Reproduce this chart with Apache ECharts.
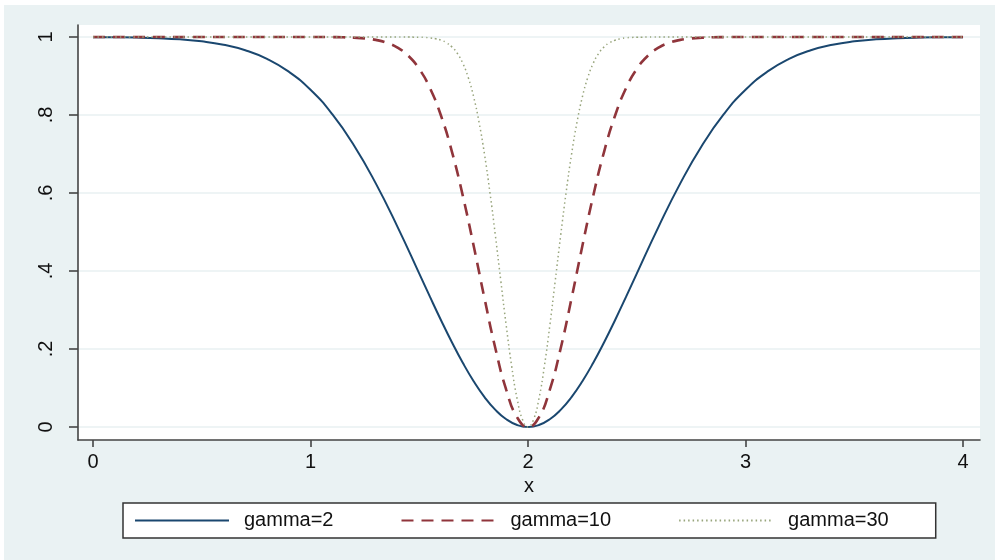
<!DOCTYPE html>
<html>
<head>
<meta charset="utf-8">
<script src="https://cdn.jsdelivr.net/npm/echarts@6/dist/echarts.min.js"></script>
<style>
  html, body { margin: 0; padding: 0; background: #ffffff; }
  #wrap { position: relative; width: 995px; height: 560px; overflow: hidden; }
  #bg { position: absolute; left: 4px; top: 5px; right: 0; bottom: 0; background: #eaf2f3; }
  #chart { position: absolute; left: 0; top: 0; width: 995px; height: 560px; }
</style>
</head>
<body>
<div id="wrap"><div id="bg"></div><div id="chart"></div></div>
<script>
// Tick positions shown on each axis
const xTicks = [0, 1, 2, 3, 4];
const yTicks = [0, 0.2, 0.4, 0.6, 0.8, 1];

const seriesNames = ['gamma=2', 'gamma=10', 'gamma=30'];

// gamma=2 : sampled every 0.1, every 0.05 near the minimum
const xG2 = [0, 0.1, 0.2, 0.3, 0.4, 0.5, 0.6, 0.7, 0.8, 0.9, 1.0,
  1.1, 1.2, 1.3, 1.4, 1.5, 1.55, 1.6, 1.65, 1.7, 1.75, 1.8, 1.85, 1.9, 1.95, 2.0,
  2.05, 2.1, 2.15, 2.2, 2.25, 2.3, 2.35, 2.4, 2.45, 2.5, 2.6, 2.7, 2.8, 2.9, 3.0,
  3.1, 3.2, 3.3, 3.4, 3.5, 3.6, 3.7, 3.8, 3.9, 4.0];
const yG2 = [0.9997, 0.9993, 0.9985, 0.9969, 0.9940, 0.9889, 0.9802, 0.9660, 0.9439, 0.9111, 0.8647,
  0.8021, 0.7220, 0.6247, 0.5133, 0.3935, 0.3330, 0.2739, 0.2173, 0.1647, 0.1175, 0.0769, 0.0440, 0.0198, 0.0050, 0,
  0.0050, 0.0198, 0.0440, 0.0769, 0.1175, 0.1647, 0.2173, 0.2739, 0.3330, 0.3935, 0.5133, 0.6247, 0.7220, 0.8021, 0.8647,
  0.9111, 0.9439, 0.9660, 0.9802, 0.9889, 0.9940, 0.9969, 0.9985, 0.9993, 0.9997];

// gamma=10 : flat ends, sampled every 0.05 between 1 and 3
const xG10 = [0, 1.0, 1.05, 1.1, 1.15, 1.2, 1.25, 1.3, 1.35, 1.4, 1.45, 1.5,
  1.55, 1.6, 1.65, 1.7, 1.75, 1.8, 1.85, 1.9, 1.95, 2.0,
  2.05, 2.1, 2.15, 2.2, 2.25, 2.3, 2.35, 2.4, 2.45, 2.5,
  2.55, 2.6, 2.65, 2.7, 2.75, 2.8, 2.85, 2.9, 2.95, 3.0, 4];
const yG10 = [1, 1.0000, 0.9999, 0.9997, 0.9993, 0.9983, 0.9964, 0.9926, 0.9854, 0.9727, 0.9515, 0.9179,
  0.8680, 0.7981, 0.7063, 0.5934, 0.4647, 0.3297, 0.2015, 0.0952, 0.0247, 0,
  0.0247, 0.0952, 0.2015, 0.3297, 0.4647, 0.5934, 0.7063, 0.7981, 0.8680, 0.9179,
  0.9515, 0.9727, 0.9854, 0.9926, 0.9964, 0.9983, 0.9993, 0.9997, 0.9999, 1.0000, 1];

// gamma=30 : flat ends, sampled every 0.025 between 1.4 and 2.6
const xG30 = [0, 1.4, 1.425, 1.45, 1.475, 1.5, 1.525, 1.55, 1.575, 1.6, 1.625, 1.65, 1.675,
  1.7, 1.725, 1.75, 1.775, 1.8, 1.825, 1.85, 1.875, 1.9, 1.925, 1.95, 1.975, 2.0,
  2.025, 2.05, 2.075, 2.1, 2.125, 2.15, 2.175, 2.2, 2.225, 2.25, 2.275, 2.3,
  2.325, 2.35, 2.375, 2.4, 2.425, 2.45, 2.475, 2.5, 2.525, 2.55, 2.575, 2.6, 4];
const yG30 = [1, 1.0000, 1.0000, 0.9999, 0.9997, 0.9995, 0.9989, 0.9977, 0.9956, 0.9918, 0.9853, 0.9747, 0.9580,
  0.9328, 0.8965, 0.8467, 0.7810, 0.6988, 0.6010, 0.4908, 0.3742, 0.2592, 0.1553, 0.0723, 0.0186, 0,
  0.0186, 0.0723, 0.1553, 0.2592, 0.3742, 0.4908, 0.6010, 0.6988, 0.7810, 0.8467, 0.8965, 0.9328,
  0.9580, 0.9747, 0.9853, 0.9918, 0.9956, 0.9977, 0.9989, 0.9995, 0.9997, 0.9999, 1.0000, 1.0000, 1];

const FONT = '"Liberation Sans", Arial, Helvetica, sans-serif';
const pairs = (xs, ys) => xs.map((x, i) => [x, ys[i]]);

const chart = echarts.init(document.getElementById('chart'), null, { renderer: 'canvas' });

chart.setOption({
  animation: false,
  backgroundColor: 'transparent',
  textStyle: { fontFamily: FONT },
  grid: {
    left: 78, right: 15, top: 25, bottom: 120,
    show: true, backgroundColor: '#ffffff', borderWidth: 0
  },
  xAxis: {
    type: 'value',
    min: -0.069, max: 4.078,
    name: 'x', nameLocation: 'middle', nameGap: 32,
    nameTextStyle: { fontSize: 20, color: '#111', fontFamily: FONT },
    axisLine: { show: true, onZero: false, lineStyle: { color: '#444', width: 1.6 } },
    axisTick: { show: true, length: 7, customValues: xTicks, lineStyle: { color: '#444', width: 1.6 } },
    axisLabel: { customValues: xTicks, fontSize: 20, color: '#111', margin: 12, fontFamily: FONT },
    splitLine: { show: false }
  },
  yAxis: {
    type: 'value',
    min: -0.0333, max: 1.0308,
    axisLine: { show: true, onZero: false, lineStyle: { color: '#444', width: 1.6 } },
    axisTick: { show: true, length: 9, customValues: yTicks, lineStyle: { color: '#444', width: 1.6 } },
    axisLabel: {
      customValues: yTicks, rotate: 90, fontSize: 20, color: '#111', margin: 22, fontFamily: FONT,
      formatter: v => (v === 0 || v === 1) ? String(v) : String(v).replace(/^0/, '')
    },
    splitLine: { show: true, lineStyle: { color: '#e8f0f2', width: 1.6 } }
  },
  legend: {
    data: seriesNames,
    left: 123, top: 503,
    orient: 'horizontal',
    padding: [7, 47, 7, 11],
    itemWidth: 94, itemHeight: 14, itemGap: 67,
    backgroundColor: '#ffffff',
    borderColor: '#333', borderWidth: 1.5, borderRadius: 0,
    itemStyle: { opacity: 0, color: 'rgba(0,0,0,0)', borderWidth: 0 },
    textStyle: { fontSize: 20, color: '#111', fontFamily: FONT, padding: [0, 0, 0, 10], lineHeight: 21 }
  },
  series: [
    {
      name: seriesNames[0], type: 'line', data: pairs(xG2, yG2),
      smooth: true, symbol: 'none',
      lineStyle: { color: '#1a476f', width: 2 }, itemStyle: { color: '#1a476f' }
    },
    {
      name: seriesNames[1], type: 'line', data: pairs(xG10, yG10),
      smooth: true, symbol: 'none',
      lineStyle: { color: '#90353b', width: 2.6, type: [12, 8] }, itemStyle: { color: '#90353b' }
    },
    {
      name: seriesNames[2], type: 'line', data: pairs(xG30, yG30),
      smooth: true, symbol: 'none',
      lineStyle: { color: '#98a57c', width: 1.5, type: [1.5, 3] }, itemStyle: { color: '#98a57c' }
    }
  ]
});
</script>
</body>
</html>
